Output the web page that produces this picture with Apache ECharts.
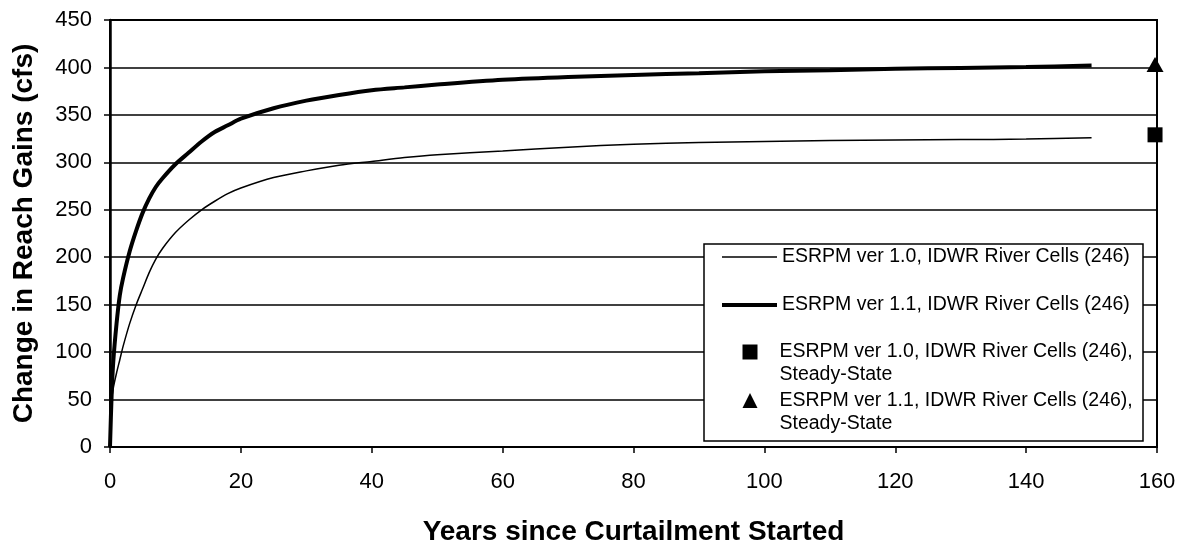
<!DOCTYPE html>
<html><head><meta charset="utf-8">
<script src="https://cdn.jsdelivr.net/npm/echarts@6/dist/echarts.min.js"></script>
<style>html,body{margin:0;padding:0;background:#fff}#c{width:1191px;height:551px}</style>
</head><body><div id="c"></div>
<script>
// Years since curtailment started
const years = [0, 0.25, 0.5, 1, 1.5, 2, 3, 4, 5, 6, 7, 8, 10, 12, 14, 16, 18, 20, 25, 30, 35, 40, 45, 50, 60, 70, 80, 90, 100, 110, 120, 130, 140, 150];
// ESRPM ver 1.0 transient response (cfs)
const ver10 = [0, 48, 62, 78, 92, 106, 130, 150, 167, 184, 198, 209, 226, 239, 250, 259, 267, 273, 284, 291, 297, 301, 305, 308, 312, 316, 319, 321, 322, 323, 323.5, 324, 324.5, 326];
// ESRPM ver 1.1 transient response (cfs)
const ver11 = [0, 55, 90, 130, 160, 178, 206, 228, 247, 262, 274, 283, 298, 310, 322, 332, 339, 346, 357, 365, 371, 376, 379, 382, 387, 390, 392, 394, 396, 397, 398.5, 399.5, 400.5, 402];
// Steady-state points
const steadyYear = 159.7;
const steady10 = 329;
const steady11 = 403;

const names = [
  'ESRPM ver 1.0, IDWR River Cells (246)',
  'ESRPM ver 1.1, IDWR River Cells (246)',
  'ESRPM ver 1.0, IDWR River Cells (246), Steady-State',
  'ESRPM ver 1.1, IDWR River Cells (246), Steady-State'
];

const FONT = "'Liberation Sans', Arial, sans-serif";
const pair = (xs, ys) => xs.map((x, i) => [x, ys[i]]);
const legendText = {fontSize: 19.5, fontFamily: FONT, color: '#000', lineHeight: 23};

function lineLegend(name, top, h) {
  return {
    data: [{name: name, icon: 'rect'}],
    left: 722, top: top, padding: 0, itemGap: 0,
    itemWidth: 55, itemHeight: h, selectedMode: false, z: 5,
    itemStyle: {color: '#000', opacity: 1},
    textStyle: legendText
  };
}
function markLegend(name, icon, top) {
  return {
    data: [{name: name, icon: icon}],
    left: 742.5, top: top, padding: 0, itemGap: 0,
    itemWidth: 15, itemHeight: 15, selectedMode: false, z: 5,
    itemStyle: {color: '#000', opacity: 1},
    formatter: n => '{g|}\n{g|}' + n.replace(', Steady-State', ',\n{g|}Steady-State'),
    textStyle: Object.assign({}, legendText, {rich: {g: {width: 17, lineHeight: 23, fontSize: 19.5}}})
  };
}

const chart = echarts.init(document.getElementById('c'), null, {renderer: 'canvas'});
chart.setOption({
  animation: false,
  backgroundColor: '#fff',
  grid: {left: 110, right: 34, top: 20, bottom: 100, show: true, borderColor: '#000', borderWidth: 2, backgroundColor: 'transparent'},
  xAxis: {
    type: 'value', min: 0, max: 160, interval: 20,
    name: 'Years since Curtailment Started', nameLocation: 'middle', nameGap: 71,
    nameTextStyle: {fontSize: 28, fontWeight: 'bold', fontFamily: FONT, color: '#000'},
    axisLine: {show: true, lineStyle: {color: '#000', width: 2}},
    axisTick: {show: true, length: 6, lineStyle: {color: '#000', width: 1.5}},
    axisLabel: {fontSize: 22, fontFamily: FONT, color: '#000', margin: 24},
    splitLine: {show: false}
  },
  yAxis: {
    type: 'value', min: 0, max: 450, interval: 50,
    name: 'Change in Reach Gains (cfs)', nameLocation: 'middle', nameGap: 72,
    nameTextStyle: {fontSize: 28, fontWeight: 'bold', fontFamily: FONT, color: '#000'},
    axisLine: {show: true, lineStyle: {color: '#000', width: 2.5}},
    axisTick: {show: true, length: 6, lineStyle: {color: '#000', width: 1.5}},
    axisLabel: {fontSize: 22, fontFamily: FONT, color: '#000', margin: 18},
    splitLine: {show: true, lineStyle: {color: '#000', width: 1.6}}
  },
  legend: [
    lineLegend(names[0], 245.5, 1.5),
    lineLegend(names[1], 293.5, 4),
    markLegend(names[2], 'rect', 317.5),
    markLegend(names[3], 'triangle', 366)
  ],
  graphic: {elements: [{
    type: 'rect', z: 3,
    shape: {x: 704, y: 244, width: 439, height: 197},
    style: {fill: '#fff', stroke: '#000', lineWidth: 1.5}
  }]},
  series: [
    {name: names[0], type: 'line', data: pair(years, ver10), symbol: 'none', smooth: 0.3,
     lineStyle: {color: '#000', width: 1.5}, itemStyle: {color: '#000'}},
    {name: names[1], type: 'line', data: pair(years, ver11), symbol: 'none', smooth: 0.3,
     lineStyle: {color: '#000', width: 4}, itemStyle: {color: '#000'}},
    {name: names[2], type: 'scatter', data: [[steadyYear, steady10]], symbol: 'rect', symbolSize: 15,
     clip: false, itemStyle: {color: '#000', opacity: 1}},
    {name: names[3], type: 'scatter', data: [[steadyYear, steady11]], symbol: 'triangle', symbolSize: [17, 15],
     clip: false, itemStyle: {color: '#000', opacity: 1}}
  ]
});
</script></body></html>
